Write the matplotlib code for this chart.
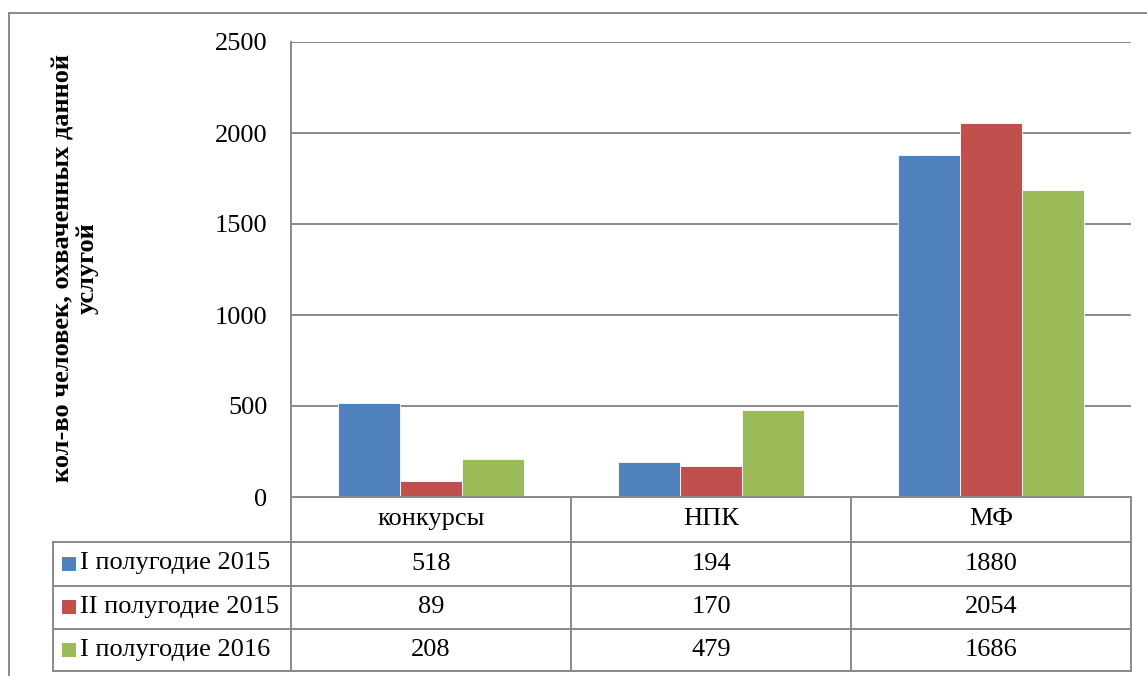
import numpy as np
import matplotlib
matplotlib.use('Agg')
import matplotlib.pyplot as plt
import matplotlib.transforms as mtransforms
from matplotlib.lines import Line2D
from matplotlib.patches import Rectangle

categories = ['конкурсы', 'НПК', 'МФ']
series_names = ['I полугодие 2015', 'II полугодие 2015', 'I полугодие 2016']
values = [
    [518, 194, 1880],
    [89, 170, 2054],
    [208, 479, 1686],
]
colors = ['#4F81BD', '#C0504D', '#9BBB59']
y_ticks = [0, 500, 1000, 1500, 2000, 2500]
y_label = 'кол-во человек, охваченных данной\nуслугой'

W, H = 1147, 676
plt.rcParams['font.family'] = 'serif'
plt.rcParams['font.serif'] = ['Liberation Serif', 'DejaVu Serif']
GRAY = '#898989'
FS = 19

def fx(x):
    return x / W

def fy(y):
    return 1 - y / H

fig = plt.figure(figsize=(W / 100, H / 100), dpi=100)

# outer chart border (runs off the right/bottom edge)
fig.add_artist(Line2D([fx(8.5), fx(8.5)], [fy(13), fy(680)], transform=fig.transFigure, color=GRAY, lw=1.4))
fig.add_artist(Line2D([fx(8.5), fx(1150)], [fy(13), fy(13)], transform=fig.transFigure, color=GRAY, lw=1.4))

ax_l, ax_r, ax_t, ax_b = 291, 1131, 42, 497
ax = fig.add_axes([fx(ax_l), fy(ax_b), (ax_r - ax_l) / W, (ax_b - ax_t) / H])

n = len(series_names)
bw = 1 / 4.5
x = np.arange(len(categories))
for i in range(n):
    ax.bar(x + (i - 1) * bw, values[i], width=bw, color=colors[i], edgecolor='#ffffff', linewidth=0.6, zorder=3)

ax.set_xlim(-0.5, len(categories) - 0.5)
ax.set_ylim(0, 2500)
ax.set_yticks(y_ticks)
ax.set_yticklabels([str(t) for t in y_ticks], fontsize=FS)
ax.set_xticks([])
ax.tick_params(axis='y', length=0, pad=17)
ax.yaxis.grid(True, color=GRAY, lw=1.4, zorder=0)
for s in ['top', 'right', 'bottom']:
    ax.spines[s].set_visible(False)
ax.spines['left'].set_color(GRAY)
ax.spines['left'].set_linewidth(1.4)

fig.text(fx(75), fy(268), y_label, rotation=90, ha='center', va='center',
         multialignment='center', fontsize=FS, fontweight='bold', linespacing=1.1)

# data table under the axes
tr = mtransforms.blended_transform_factory(ax.transData, fig.transFigure)
rows_y = [497, 541.5, 585.5, 628.5, 671]
left_px = 53
x_lo, x_hi = -0.5, len(categories) - 0.5

for j, y in enumerate(rows_y):
    if j > 0:
        fig.add_artist(Line2D([fx(left_px), fx(ax_l)], [fy(y), fy(y)], transform=fig.transFigure, color=GRAY, lw=1.4))
    fig.add_artist(Line2D([x_lo, x_hi], [fy(y), fy(y)], transform=tr, color=GRAY, lw=1.4))

# verticals
for k in range(len(categories) + 1):
    xv = k - 0.5
    fig.add_artist(Line2D([xv, xv], [fy(ax_b), fy(rows_y[-1])], transform=tr, color=GRAY, lw=1.4))
fig.add_artist(Line2D([fx(left_px), fx(left_px)], [fy(rows_y[1]), fy(rows_y[-1])], transform=fig.transFigure, color=GRAY, lw=1.4))

# header
for k, c in enumerate(categories):
    fig.text(k, fy((rows_y[0] + rows_y[1]) / 2), c, transform=tr, ha='center', va='center', fontsize=FS)

for i in range(n):
    yc = (rows_y[i + 1] + rows_y[i + 2]) / 2
    fig.add_artist(Rectangle((fx(62), fy(yc + 7)), 14 / W, 14 / H, transform=fig.transFigure,
                             facecolor=colors[i], edgecolor='none'))
    fig.text(fx(80), fy(yc), series_names[i], ha='left', va='center', fontsize=FS)
    for k in range(len(categories)):
        fig.text(k, fy(yc), str(values[i][k]), transform=tr, ha='center', va='center', fontsize=FS)

fig.savefig('out.png', dpi=100)
